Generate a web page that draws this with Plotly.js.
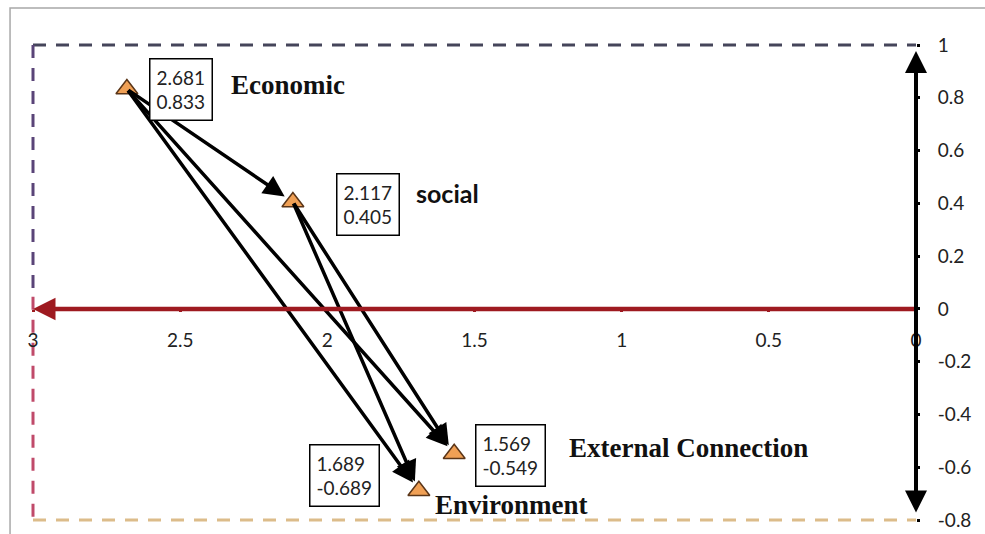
<!DOCTYPE html>
<html>
<head>
<meta charset="utf-8">
<script src="https://cdn.plot.ly/plotly-3.0.1.min.js"></script>
<style>html,body{margin:0;padding:0;background:#fff;}#chart{width:985px;height:534px;}</style>
</head>
<body>
<div id="chart"></div>
<script>
// ---- data ----
const names = ["Economic", "social", "External Connection", "Environment"];
const xVals = [2.681, 2.117, 1.569, 1.689];
const yVals = [0.833, 0.405, -0.549, -0.689];
const arrowFrom = [0, 0, 0, 1, 1];
const arrowTo   = [1, 2, 3, 2, 3];
const xTicks = [3, 2.5, 2, 1.5, 1, 0.5, 0];
const xTickText = ["3", "2.5", "2", "1.5", "1", "0.5", "0"];
const yTicks = [1, 0.8, 0.6, 0.4, 0.2, 0, -0.2, -0.4, -0.6, -0.8];
const yTickText = ["1", "0.8", "0.6", "0.4", "0.2", "0", "-0.2", "-0.4", "-0.6", "-0.8"];
const xRange = [3, 0];
const yRange = [-0.8, 1];

// ---- styling (not data) ----
const boxShift = [[54, 0], [75, -2], [56, -2], [-74, 15]];
const labelShift = [[161, 4], [155, 9], [234, 6], [93, -14]];
const labelFont = [
  {family: "Liberation Serif", size: 27, color: "#111", weight: "bold"},
  {family: "Lato, Open Sans", size: 25, color: "#111", weight: "bold"},
  {family: "Liberation Serif", size: 27, color: "#111", weight: "bold"},
  {family: "Liberation Serif", size: 27, color: "#111", weight: "bold"}
];

const annotations = [];
// arrows between points
for (let i = 0; i < arrowFrom.length; i++) {
  const a = arrowFrom[i], b = arrowTo[i];
  annotations.push({
    x: xVals[b], y: yVals[b], xref: "x", yref: "y",
    ax: xVals[a], ay: yVals[a], axref: "x", ayref: "y",
    showarrow: true, arrowhead: 2, arrowsize: 1.2, arrowwidth: 3.5,
    arrowcolor: "#000", standoff: 10, startstandoff: 0, text: ""
  });
}
// x axis arrow (red)
annotations.push({
  x: xRange[0], y: 0, xref: "x", yref: "y",
  ax: xRange[1], ay: 0, axref: "x", ayref: "y",
  showarrow: true, arrowhead: 2, arrowsize: 1, arrowwidth: 4.5,
  arrowcolor: "#9e1a20", text: ""
});
// y axis double arrow (black)
annotations.push({
  x: 0, y: yRange[1], xref: "x", yref: "y",
  ax: 0, ay: yRange[0], axref: "x", ayref: "y",
  showarrow: true, arrowhead: 2, arrowside: "end+start", arrowsize: 1.1, arrowwidth: 4,
  arrowcolor: "#000", standoff: 6, startstandoff: 6, text: ""
});
// value boxes and labels
for (let i = 0; i < names.length; i++) {
  annotations.push({
    x: xVals[i], y: yVals[i], xref: "x", yref: "y",
    text: xVals[i].toFixed(3) + "<br>" + yVals[i].toFixed(3),
    showarrow: false, xshift: boxShift[i][0], yshift: boxShift[i][1],
    font: {family: "Lato, Open Sans", size: 19, color: "#222"},
    bordercolor: "#000", borderwidth: 1.5, borderpad: 6, bgcolor: "#fff",
    align: "left"
  });
  annotations.push({
    x: xVals[i], y: yVals[i], xref: "x", yref: "y",
    text: names[i], showarrow: false,
    xshift: labelShift[i][0], yshift: labelShift[i][1],
    font: labelFont[i]
  });
}

// dashed frame on the plot-area edges (paper coords so it is not clipped)
const dash = "13px,10px";
const shapes = [
  // outer frame
  {type: "rect", xref: "paper", yref: "paper", x0: -0.026, x1: 1.2, y0: -0.2, y1: 1.078,
   line: {color: "#a8a8a8", width: 1.5}, layer: "below"},
  {type: "line", xref: "paper", yref: "paper", x0: 0, x1: 1, y0: 1, y1: 1,
   line: {color: "#45455a", width: 3, dash: dash}, layer: "below"},
  {type: "line", xref: "paper", yref: "paper", x0: 0, x1: 0, y0: 1, y1: 0.47,
   line: {color: "#5a4478", width: 3, dash: dash}, layer: "below"},
  {type: "line", xref: "paper", yref: "paper", x0: 0, x1: 0, y0: 0.47, y1: 0,
   line: {color: "#c04a6a", width: 3, dash: dash}, layer: "below"},
  {type: "line", xref: "paper", yref: "paper", x0: 0, x1: 1, y0: 0, y1: 0,
   line: {color: "#dcbc8a", width: 3, dash: dash}, layer: "below"}
];

const trace = {
  type: "scatter", mode: "markers", x: xVals, y: yVals, text: names,
  marker: {symbol: "triangle-up", size: 19, color: "#f0a055",
           line: {color: "#5a3518", width: 1.5}},
  hoverinfo: "text+x+y", showlegend: false, cliponaxis: false
};

const layout = {
  width: 985, height: 534,
  margin: {l: 33, r: 69, t: 45, b: 14},
  paper_bgcolor: "#fff", plot_bgcolor: "#fff",
  xaxis: {range: xRange, anchor: "free", position: 0.8 / 1.8,
          tickvals: xTicks, ticktext: xTickText,
          showgrid: false, zeroline: false, showline: false,
          ticks: "outside", ticklen: 2, tickwidth: 3, tickcolor: "#9e1a20",
          ticklabelstandoff: 12,
          tickfont: {family: "Lato, Open Sans", size: 19, color: "#222"}},
  yaxis: {range: yRange, anchor: "free", position: 1, side: "right",
          tickvals: yTicks, ticktext: yTickText,
          showgrid: false, zeroline: false, showline: false,
          ticks: "outside", ticklen: 3, tickwidth: 3, tickcolor: "#000",
          ticklabelstandoff: 14,
          tickfont: {family: "Lato, Open Sans", size: 19, color: "#222"}},
  shapes: shapes,
  annotations: annotations,
  showlegend: false
};

Plotly.newPlot("chart", [trace], layout, {displayModeBar: false, staticPlot: true});
</script>
</body>
</html>
